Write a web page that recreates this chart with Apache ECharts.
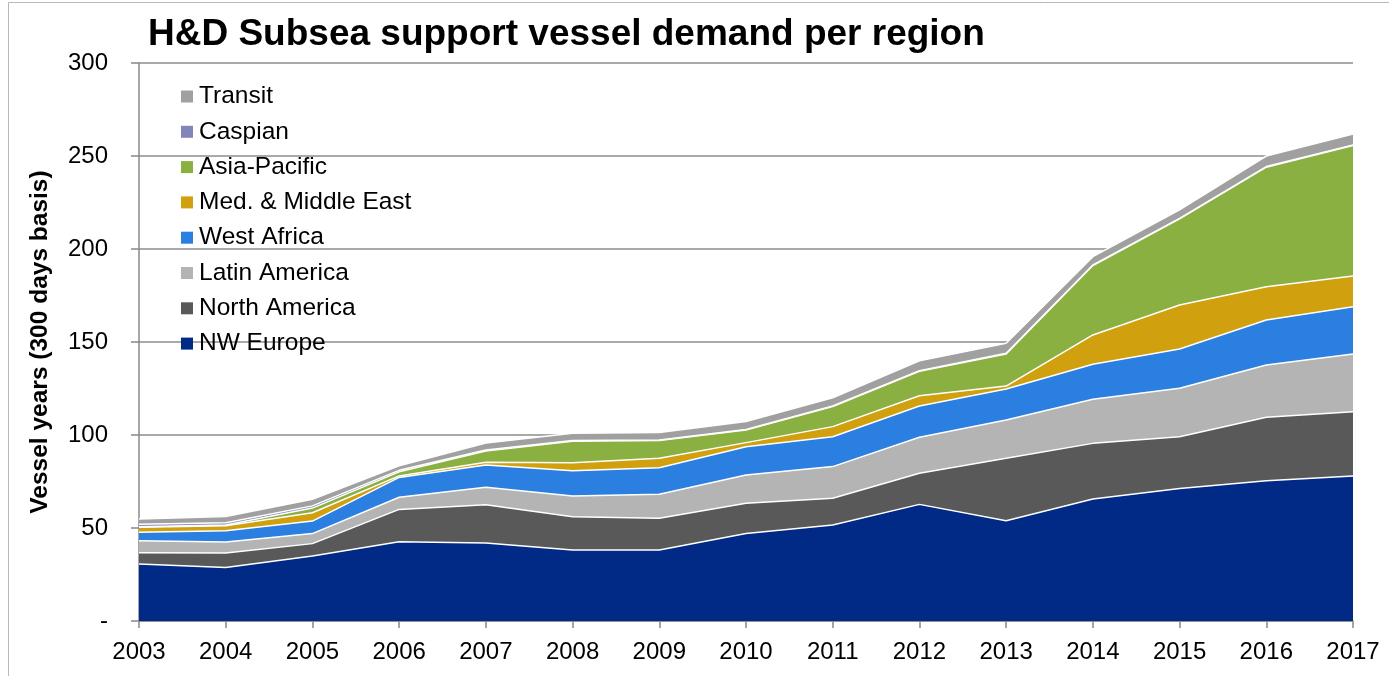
<!DOCTYPE html>
<html>
<head>
<meta charset="utf-8">
<script src="https://cdn.jsdelivr.net/npm/echarts@6/dist/echarts.min.js"></script>
<style>
  html, body { margin: 0; padding: 0; background: #fff; }
  #chart { width: 1389px; height: 676px; }
</style>
</head>
<body>
<div id="chart"></div>
<script>
// Years on the horizontal axis
var years = ['2003','2004','2005','2006','2007','2008','2009','2010','2011','2012','2013','2014','2015','2016','2017'];

// Vessel years (300 days basis) per region, stacked bottom to top
var nwEurope     = [30.6, 28.8, 35.0, 42.6, 42.0, 38.2, 38.2, 47.1, 51.6, 62.7, 53.9, 65.6, 71.3, 75.4, 78.0];
var northAmerica = [ 6.1,  7.8,  6.6, 17.4, 20.5, 17.9, 17.0, 16.2, 14.4, 16.7, 33.6, 29.9, 27.8, 34.1, 34.5];
var latinAmerica = [ 6.5,  5.9,  5.4,  6.5,  9.4, 11.1, 12.9, 15.2, 17.0, 19.4, 20.6, 23.7, 26.0, 28.1, 31.0];
var westAfrica   = [ 4.5,  6.0,  6.7, 10.7, 12.0, 13.6, 14.3, 15.2, 16.1, 16.8, 16.6, 18.8, 21.1, 24.2, 25.5];
var medMidEast   = [ 2.7,  2.7,  4.5,  0.8,  1.5,  4.3,  5.1,  2.2,  5.4,  5.5,  1.6, 15.8, 23.7, 17.9, 16.5];
var asiaPacific  = [ 0.3,  0.4,  2.5,  2.2,  6.0, 11.5,  9.5,  6.8, 10.8, 13.2, 17.3, 37.3, 46.3, 64.3, 70.1];
var caspian      = [ 1.3,  1.2,  1.2,  0.8,  0.5,  0.4,  0.3,  0.3,  0.3,  0.3,  0.3,  0.3,  0.3,  0.3,  0.3];
var transit      = [ 2.8,  3.4,  3.5,  2.5,  3.8,  3.9,  4.0,  4.2,  4.4,  5.3,  5.4,  4.5,  4.5,  5.7,  5.9];

// Y axis ticks
var yTicks = [0, 50, 100, 150, 200, 250, 300];

var regions = [
  { name: 'NW Europe',           data: nwEurope,     color: '#002A85' },
  { name: 'North America',       data: northAmerica, color: '#595959' },
  { name: 'Latin America',       data: latinAmerica, color: '#B4B4B4' },
  { name: 'West Africa',         data: westAfrica,   color: '#2B7FE0' },
  { name: 'Med. & Middle East',  data: medMidEast,   color: '#D1A00E' },
  { name: 'Asia-Pacific',        data: asiaPacific,  color: '#8AB042' },
  { name: 'Caspian',             data: caspian,      color: '#8185BA' },
  { name: 'Transit',             data: transit,      color: '#A0A0A0' }
];

var FONT = '"Liberation Sans", Arial, sans-serif';

var chart = echarts.init(document.getElementById('chart'), null, { renderer: 'canvas' });

chart.setOption({
  animation: false,
  backgroundColor: '#ffffff',
  title: {
    text: 'H&D Subsea support vessel demand per region',
    left: 143,
    top: 11,
    textStyle: { fontFamily: FONT, fontWeight: 'bold', fontSize: 37, color: '#000' }
  },
  graphic: [{
    type: 'rect',
    shape: { x: 8.5, y: 2.5, width: 1400, height: 700 },
    style: { fill: 'none', stroke: '#B8B8B8', lineWidth: 1 },
    silent: true,
    z: -1
  }],
  legend: {
    orient: 'vertical',
    left: 176,
    top: 79,
    itemGap: 10.3,
    itemWidth: 12,
    itemHeight: 12,
    icon: 'rect',
    data: regions.slice().reverse().map(function (r) { return r.name; }),
    textStyle: { fontFamily: FONT, fontSize: 24.5, lineHeight: 24, color: '#000', padding: [0, 0, 0, 1] }
  },
  grid: { left: 139, right: 36, top: 63, bottom: 55, containLabel: false },
  xAxis: {
    type: 'category',
    boundaryGap: false,
    data: years,
    axisLine: { lineStyle: { color: '#888', width: 1.5 } },
    axisTick: { show: true, length: 7, inside: false, lineStyle: { color: '#888', width: 1.5 } },
    axisLabel: { fontFamily: FONT, fontSize: 24, color: '#000', margin: 19 },
    splitLine: { show: false }
  },
  yAxis: {
    type: 'value',
    min: yTicks[0],
    max: yTicks[yTicks.length - 1],
    interval: yTicks[1] - yTicks[0],
    name: 'Vessel years (300 days basis)',
    nameLocation: 'middle',
    nameGap: 86,
    nameRotate: 90,
    nameTextStyle: { fontFamily: FONT, fontWeight: 'bold', fontSize: 24.5, color: '#000' },
    axisLine: { show: true, lineStyle: { color: '#888', width: 1.5 } },
    axisTick: { show: true, length: 8, lineStyle: { color: '#888', width: 1.5 } },
    axisLabel: {
      fontFamily: FONT, fontSize: 24, color: '#000', margin: 31,
      formatter: function (v) { return v === 0 ? '-' : String(v); }
    },
    splitLine: { show: true, lineStyle: { color: '#8C8C8C', width: 1.5 } }
  },
  series: regions.map(function (r) {
    return {
      name: r.name,
      type: 'line',
      stack: 'total',
      data: r.data,
      symbol: 'none',
      smooth: false,
      itemStyle: { color: r.color },
      lineStyle: { color: '#ffffff', width: 1.5 },
      areaStyle: { color: r.color, opacity: 1 },
      emphasis: { disabled: true }
    };
  })
});
</script>
</body>
</html>
